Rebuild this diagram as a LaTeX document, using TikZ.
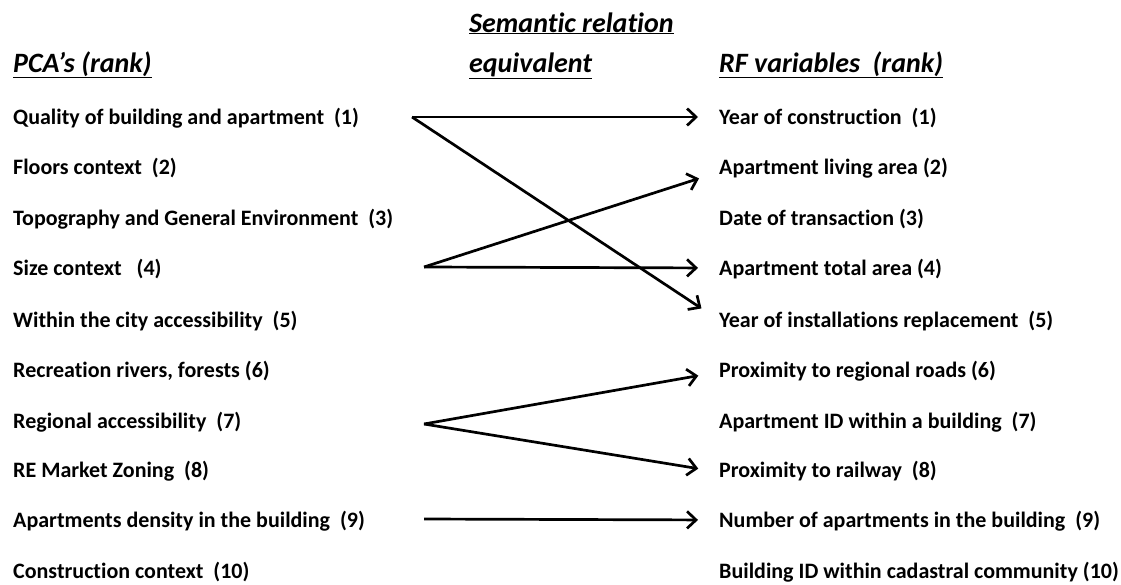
\documentclass[tikz,border=0pt]{standalone}
\usepackage{fontspec}
\setmainfont{Carlito}[Ligatures=NoCommon]
\usetikzlibrary{arrows.meta}
\begin{document}
\begin{tikzpicture}[x=1pt,y=-1pt,
  item/.style={anchor=west,inner sep=0pt,font=\fontsize{22}{26}\selectfont\bfseries,text height=15pt,text depth=1pt},
  head/.style={anchor=base west,inner sep=0pt,font=\fontsize{28}{30}\selectfont\bfseries\itshape},
  link/.style={line width=2.7pt,-{Straight Barb[length=9pt,width=17pt,line width=2.7pt]},shorten >=21pt}]
\useasboundingbox (0,0) rectangle (1121,584);
% headers
\node[head] (hl) at (13,72) {\underline{PCA{\char"27}s (rank)}};
\node[head] (hs1) at (469,32) {\underline{Semantic relation}};
\node[head] (hs2) at (469,72) {\underline{equivalent}};
\node[head] (hr) at (719,72) {\underline{RF variables\ \ (rank)}};
% left column
\node[item] (l1) at (13,117) {Quality of building and apartment\ \ (1)};
\node[item] (l2) at (13,167) {Floors context\ \ (2)};
\node[item] (l3) at (13,218) {Topography and General Environment\ \ (3)};
\node[item] (l4) at (13,268) {Size context\ \ \ (4)};
\node[item] (l5) at (13,320) {Within the city accessibility\ \ (5)};
\node[item] (l6) at (13,370) {Recreation rivers, forests (6)};
\node[item] (l7) at (13,421) {Regional accessibility\ \ (7)};
\node[item] (l8) at (13,470) {RE Market Zoning\ \ (8)};
\node[item] (l9) at (13,520) {Apartments density in the building\ \ (9)};
\node[item] (l10) at (13,571) {Construction context\ \ (10)};
% right column
\node[item] (r1) at (719,117) {Year of construction\ \ (1)};
\node[item] (r2) at (719,167) {Apartment living area (2)};
\node[item] (r3) at (719,218) {Date of transaction (3)};
\node[item] (r4) at (719,268) {Apartment total area (4)};
\node[item] (r5) at (719,320) {Year of installations replacement\ \ (5)};
\node[item] (r6) at (719,370) {Proximity to regional roads (6)};
\node[item] (r7) at (719,421) {Apartment ID within a building\ \ (7)};
\node[item] (r8) at (719,470) {Proximity to railway\ \ (8)};
\node[item] (r9) at (719,520) {Number of apartments in the building\ \ (9)};
\node[item] (r10) at (719,571) {Building ID within cadastral community (10)};
% start points
\coordinate (s1) at (412,117);
\coordinate (s4) at (424,267);
\coordinate (s7) at (424,424);
\coordinate (s9) at (424,519);
% connectors
\draw[link] (s1) -- (r1.west);
\draw[link] (s1) -- (r5.west);
\draw[link] (s4) -- ([yshift=-5pt]r2.west);
\draw[link] (s4) -- (r4.west);
\draw[link] (s7) -- ([yshift=-2pt]r6.west);
\draw[link] (s7) -- ([yshift=-2pt]r8.west);
\draw[link] (s9) -- (r9.west);
\end{tikzpicture}
\end{document}
